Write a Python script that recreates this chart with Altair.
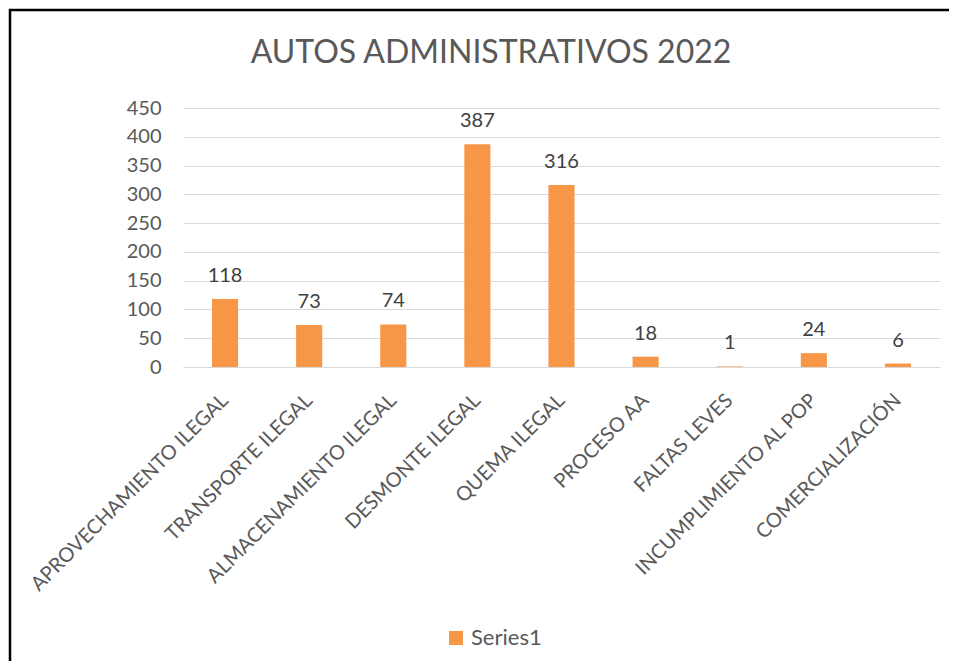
import altair as alt
import pandas as pd

categories = ["APROVECHAMIENTO ILEGAL", "TRANSPORTE ILEGAL", "ALMACENAMIENTO ILEGAL",
              "DESMONTE ILEGAL", "QUEMA ILEGAL", "PROCESO AA", "FALTAS LEVES",
              "INCUMPLIMIENTO AL POP", "COMERCIALIZACIÓN"]
values = [118, 73, 74, 387, 316, 18, 1, 24, 6]
series = ["Series1"] * len(categories)
y_ticks = [0, 50, 100, 150, 200, 250, 300, 350, 400, 450]
title_text = "AUTOS ADMINISTRATIVOS 2022"

df = pd.DataFrame({"cat": categories, "value": values, "series": series})

FONT = "Lato"
W, H = 757, 259

x_enc = alt.X("cat:N", sort=categories, title=None,
              scale=alt.Scale(paddingInner=0.69, paddingOuter=0.345),
              axis=alt.Axis(labelAngle=-45, labelAlign="right", labelBaseline="middle",
                            labelFontSize=20, labelColor="#595959", labelFont=FONT,
                            labelPadding=30, ticks=False, domainColor="#d9d9d9",
                            domainWidth=1.2, labelLimit=400, labelOverlap=False))
y_enc = alt.Y("value:Q", title=None,
              scale=alt.Scale(domain=[0, 450], nice=False),
              axis=alt.Axis(values=y_ticks, labelFontSize=20, labelColor="#595959",
                            labelFont=FONT, labelPadding=22, ticks=False, domain=False,
                            gridColor="#d9d9d9", gridWidth=1.2, labelOverlap=False))

base = alt.Chart(df).encode(x=x_enc, y=y_enc)

bars = base.mark_bar(color="#F79646").encode(
    color=alt.Color("series:N", scale=alt.Scale(range=["#F79646"]),
                    legend=alt.Legend(title=None, orient="none", legendX=262, legendY=519,
                                      symbolType="square", symbolSize=196,
                                      symbolStrokeWidth=0,
                                      labelFontSize=22, labelColor="#595959",
                                      labelFont=FONT, labelOffset=4, padding=0)))

labels = base.mark_text(fontSize=20, font=FONT, color="#404040",
                        baseline="alphabetic", dy=-17).encode(text="value:Q")

deco = alt.Data(values=[{}])

frame = alt.Chart(deco).mark_rect(
    fill=None, stroke="black", strokeWidth=2.5).encode(
    x=alt.value(-173), x2=alt.value(W + 100), y=alt.value(-98), y2=alt.value(H + 400))

title = alt.Chart(deco).mark_text(
    text=title_text, fontSize=32, font=FONT, fontWeight="normal", color="#595959",
    align="center", baseline="alphabetic").encode(
    x=alt.value(308), y=alt.value(-45))

chart = alt.layer(frame, title, bars, labels).properties(
    width=W, height=H,
    autosize=alt.AutoSizeParams(type="none"),
    padding={"left": 175, "top": 100, "right": 9, "bottom": 294},
).configure_view(stroke=None)

chart.save("out.html", embed_options={"renderer": "svg", "actions": False})
